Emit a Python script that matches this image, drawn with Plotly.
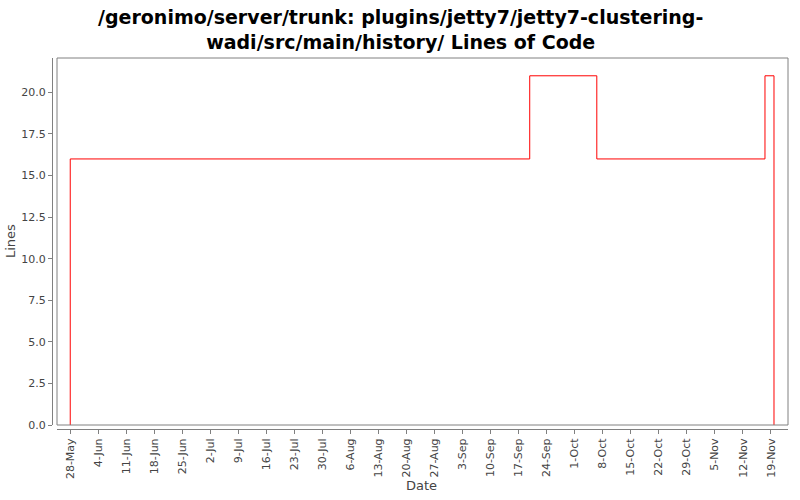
import plotly.graph_objects as go

# Data
dates = ["2009-05-28 00:00", "2009-05-28 00:00", "2009-09-19 18:00",
         "2009-10-06 12:00", "2009-11-17 12:00", "2009-11-19 18:00"]
lines = [0, 16, 21, 16, 21, 0]
y_ticks = [0, 2.5, 5, 7.5, 10, 12.5, 15, 17.5, 20]
title_text = ("/geronimo/server/trunk: plugins/jetty7/jetty7-clustering-<br>"
              "wadi/src/main/history/ Lines of Code")

W, H = 800, 500
px0, px1 = 57, 788      # plot area left/right (px)
py0, py1 = 58, 425      # plot area top/bottom (px)

def fx(p):
    return p / W

def fy(p):
    return (H - p) / H

fig = go.Figure()
fig.add_trace(go.Scatter(
    x=dates, y=lines, mode="lines",
    line=dict(color="#ff0000", width=1, shape="hv"),
    hoverinfo="skip", showlegend=False,
))

grey = "#808080"
tickfont = dict(family="DejaVu Sans", size=11, color="#444444")

fig.update_layout(
    width=W, height=H,
    margin=dict(l=0, r=0, t=0, b=0, autoexpand=False),
    paper_bgcolor="white", plot_bgcolor="white",
    showlegend=False,
    xaxis=dict(
        type="date",
        domain=[fx(px0), fx(px1)],
        range=["2009-05-24 16:40", "2009-11-23 06:00"],
        tick0="2009-05-28", dtick=7 * 24 * 3600 * 1000,
        tickformat="%-d-%b",
        tickangle=-90,
        tickfont=tickfont,
        ticks="outside", ticklen=4, tickcolor=grey,
        showgrid=False, zeroline=False, automargin=False,
        showline=True, linecolor=grey, linewidth=1,
        anchor="free", position=fy(429),
    ),
    yaxis=dict(
        domain=[fy(py1), fy(py0)],
        range=[0, 22.07],
        tickvals=y_ticks,
        tickformat=".1f",
        tickfont=tickfont,
        ticks="outside", ticklen=4, tickcolor=grey,
        showgrid=False, zeroline=False, automargin=False,
        showline=True, linecolor=grey, linewidth=1,
        anchor="free", position=fx(52),
    ),
    shapes=[dict(type="rect", xref="paper", yref="paper",
                 x0=fx(px0), x1=fx(px1), y0=fy(py1), y1=fy(py0),
                 line=dict(color=grey, width=1), fillcolor="rgba(0,0,0,0)",
                 layer="above")],
    annotations=[
        dict(text=title_text, xref="paper", yref="paper",
             x=0.5, y=fy(29), xanchor="center", yanchor="middle",
             showarrow=False, align="center",
             font=dict(family="DejaVu Sans", size=19, color="#000000", weight="bold")),
        dict(text="Lines", xref="paper", yref="paper",
             x=fx(10), y=fy(241), textangle=-90,
             xanchor="center", yanchor="middle", showarrow=False,
             font=dict(family="DejaVu Sans", size=13, color="#444444")),
        dict(text="Date", xref="paper", yref="paper",
             x=fx(421), y=fy(485),
             xanchor="center", yanchor="middle", showarrow=False,
             font=dict(family="DejaVu Sans", size=13, color="#444444")),
    ],
)

fig.write_html("out.html")
